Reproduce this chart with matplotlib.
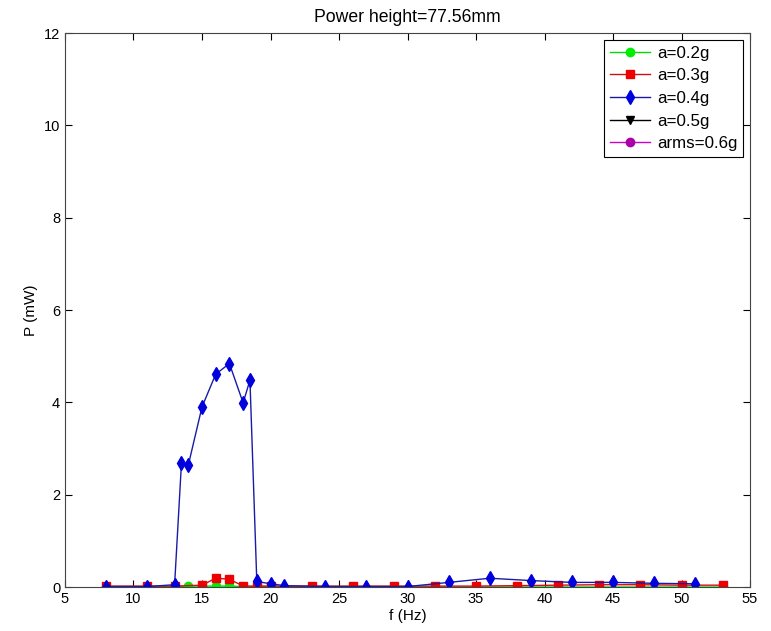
import matplotlib
matplotlib.use("Agg")
import matplotlib.pyplot as plt

plt.rcParams['font.family'] = ['Liberation Sans', 'DejaVu Sans']

# a = 0.2 g
f_02 = [8, 11, 13, 14, 15, 16, 17, 18, 19, 20, 23, 26, 29, 32, 35, 38, 41, 44, 47, 50, 53]
p_02 = [0.0, 0.0, 0.01, 0.02, 0.02, 0.02, 0.02, 0.01, 0.01, 0.01, 0.0, 0.0, 0.0, 0.0, 0.0,
        0.0, 0.0, 0.0, 0.0, 0.0, 0.0]

# a = 0.3 g
f_03 = [8, 11, 13, 15, 16, 17, 18, 19, 20, 23, 26, 29, 32, 35, 38, 41, 44, 47, 50, 53]
p_03 = [0.02, 0.02, 0.02, 0.04, 0.19, 0.17, 0.02, 0.02, 0.02, 0.02, 0.02, 0.02, 0.02,
        0.02, 0.03, 0.04, 0.05, 0.05, 0.04, 0.04]

# a = 0.4 g
f_04 = [8, 11, 13, 13.5, 14, 15, 16, 17, 18, 18.5, 19, 20, 21, 24, 27, 30, 33, 36, 39,
        42, 45, 48, 51]
p_04 = [0.01, 0.01, 0.05, 2.68, 2.64, 3.9, 4.61, 4.84, 3.99, 4.48, 0.12, 0.07, 0.03,
        0.01, 0.01, 0.01, 0.10, 0.19, 0.14, 0.10, 0.10, 0.08, 0.07]

# a = 0.5 g and arms = 0.6 g have no recorded points
f_05, p_05 = [], []
f_06, p_06 = [], []

fig = plt.figure(figsize=(7.71, 6.31), dpi=100)
ax = fig.add_axes([0.0843, 0.0697, 0.8885, 0.878])

ax.plot(f_02, p_02, color='#00dd00', lw=1.0, marker='o', ms=6,
        mfc='#00ee00', mec='#00ee00', label='a=0.2g')
ax.plot(f_03, p_03, color='#d01010', lw=1.0, marker='s', ms=6,
        mfc='#ee0000', mec='#ee0000', label='a=0.3g')
ax.plot(f_04, p_04, color='#1a1aa8', lw=1.0, marker='d', ms=7.5,
        mfc='#0000dd', mec='#0000dd', label='a=0.4g')
ax.plot(f_05, p_05, color='black', lw=1.0, marker='v', ms=6,
        mfc='black', mec='black', label='a=0.5g')
ax.plot(f_06, p_06, color='#cc00cc', lw=1.0, marker='o', ms=6,
        mfc='#aa00aa', mec='#aa00aa', label='arms=0.6g')

ax.set_xlim(5, 55)
ax.set_ylim(0, 12)
ax.set_xticks(range(5, 56, 5))
ax.set_yticks(range(0, 13, 2))
ax.tick_params(direction='in', top=True, right=True, labelsize=10.5, length=5)
for s in ax.spines.values():
    s.set_color('#444444')
    s.set_linewidth(0.8)

ax.set_xlabel('f (Hz)', fontsize=11, labelpad=2)
ax.set_ylabel('P (mW)', fontsize=11)
ax.set_title('Power height=77.56mm', fontsize=12.7, pad=8)

leg = ax.legend(loc='upper right', fontsize=12.2, fancybox=False, framealpha=1,
                edgecolor='black', borderaxespad=0.4, handlelength=2.4,
                handletextpad=0.4, labelspacing=0.45, borderpad=0.35)
leg.get_frame().set_linewidth(0.8)

fig.savefig('out.png', dpi=100)
